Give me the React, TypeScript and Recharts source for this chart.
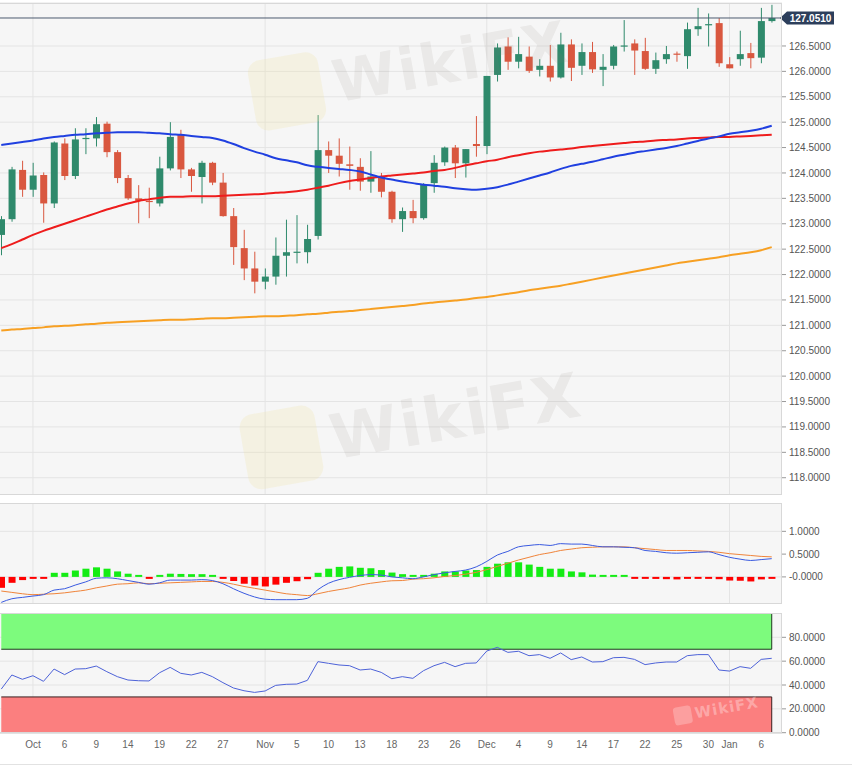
import React from 'react';
import {
  ComposedChart,
  Bar,
  Line,
  Area,
  XAxis,
  YAxis,
  CartesianGrid,
  ReferenceLine,
  Cell,
} from 'recharts';

// trading days shown on the chart
const dates = [
  '2020-09-28', '2020-09-29', '2020-09-30', '2020-10-01', '2020-10-02', '2020-10-05', '2020-10-06', '2020-10-07', '2020-10-08', '2020-10-09',
  '2020-10-12', '2020-10-13', '2020-10-14', '2020-10-15', '2020-10-16', '2020-10-19', '2020-10-20', '2020-10-21', '2020-10-22', '2020-10-23',
  '2020-10-26', '2020-10-27', '2020-10-28', '2020-10-29', '2020-10-30', '2020-11-02', '2020-11-03', '2020-11-04', '2020-11-05', '2020-11-06',
  '2020-11-09', '2020-11-10', '2020-11-11', '2020-11-12', '2020-11-13', '2020-11-16', '2020-11-17', '2020-11-18', '2020-11-19', '2020-11-20',
  '2020-11-23', '2020-11-24', '2020-11-25', '2020-11-26', '2020-11-27', '2020-11-30', '2020-12-01', '2020-12-02', '2020-12-03', '2020-12-04',
  '2020-12-07', '2020-12-08', '2020-12-09', '2020-12-10', '2020-12-11', '2020-12-14', '2020-12-15', '2020-12-16', '2020-12-17', '2020-12-18',
  '2020-12-21', '2020-12-22', '2020-12-23', '2020-12-24', '2020-12-25', '2020-12-28', '2020-12-29', '2020-12-30', '2020-12-31', '2021-01-01',
  '2021-01-04', '2021-01-05', '2021-01-06', '2021-01-07',
];

const opens = [
  122.78, 123.09, 124.06, 123.67, 123.96, 123.40, 124.58, 123.94, 124.67, 124.68,
  124.97, 124.41, 123.90, 123.50, 123.45, 123.40, 124.09, 124.75, 124.07, 123.92,
  124.20, 123.81, 123.15, 122.52, 122.12, 121.86, 121.96, 122.37, 122.44, 122.44,
  122.76, 124.45, 124.34, 124.17, 124.12, 123.83, 123.93, 123.63, 123.09, 123.25,
  123.11, 123.80, 124.21, 124.50, 124.19, 124.57, 124.53, 125.93, 126.49, 126.19,
  126.29, 126.03, 126.11, 125.88, 126.53, 126.11, 126.38, 126.03, 126.11, 126.49,
  126.55, 126.40, 126.05, 126.24, 126.35, 126.30, 126.83, 126.91, 126.95, 126.14,
  126.24, 126.36, 126.27, 126.99,
];
const highs = [
  123.15, 124.12, 124.24, 124.20, 124.01, 124.62, 124.68, 124.88, 124.88, 125.10,
  125.01, 124.45, 123.96, 123.76, 123.71, 124.32, 125.00, 124.85, 124.10, 124.24,
  124.22, 124.00, 123.31, 122.88, 122.45, 122.12, 122.73, 123.08, 123.17, 122.98,
  125.14, 124.62, 124.68, 124.52, 124.29, 124.43, 124.00, 123.65, 123.32, 123.47,
  123.80, 124.35, 124.52, 124.55, 124.47, 125.12, 125.91, 126.55, 126.67, 126.68,
  126.49, 126.24, 126.52, 126.76, 126.63, 126.55, 126.58, 126.34, 126.52, 127.01,
  126.63, 126.66, 126.37, 126.50, 126.39, 126.96, 127.25, 127.14, 127.05, 126.28,
  126.80, 126.56, 127.25, 127.31,
];
const lows = [
  122.38, 123.04, 123.53, 123.53, 123.02, 123.31, 123.86, 123.88, 124.37, 124.52,
  124.31, 123.80, 123.47, 123.01, 123.11, 123.34, 124.05, 123.90, 123.63, 123.40,
  123.76, 123.14, 122.19, 121.89, 121.63, 121.71, 121.80, 121.96, 122.22, 122.22,
  122.69, 124.00, 123.93, 123.67, 123.65, 123.61, 123.52, 123.02, 122.84, 123.01,
  123.08, 123.61, 124.14, 123.90, 123.91, 124.32, 124.37, 125.80, 126.03, 126.06,
  125.97, 125.90, 125.80, 125.86, 125.81, 125.93, 125.97, 125.71, 126.04, 126.39,
  125.93, 126.03, 125.95, 126.15, 126.19, 126.05, 126.70, 126.49, 126.09, 126.06,
  126.11, 126.06, 126.16, 126.96,
];
const closes = [
  123.09, 124.07, 123.67, 123.95, 123.40, 124.60, 123.94, 124.66, 124.69, 124.96,
  124.41, 123.90, 123.50, 123.45, 123.44, 124.09, 124.71, 124.07, 123.94, 124.20,
  123.81, 123.15, 122.54, 122.12, 121.86, 121.96, 122.37, 122.44, 122.45, 122.70,
  124.45, 124.34, 124.18, 124.14, 123.83, 123.93, 123.63, 123.09, 123.25, 123.11,
  123.78, 124.20, 124.50, 124.19, 124.47, 124.53, 125.91, 126.47, 126.19, 126.34,
  126.01, 126.11, 125.88, 126.53, 126.07, 126.38, 126.04, 126.09, 126.49, 126.51,
  126.41, 126.05, 126.22, 126.34, 126.34, 126.83, 126.89, 126.93, 126.16, 126.06,
  126.34, 126.26, 126.99, 127.051,
];

// moving averages
const ma50 = [
  124.55, 124.58, 124.61, 124.64, 124.68, 124.71, 124.73, 124.75, 124.76, 124.78,
  124.79, 124.80, 124.80, 124.80, 124.79, 124.78, 124.76, 124.75, 124.73, 124.71,
  124.69, 124.64, 124.57, 124.49, 124.42, 124.36, 124.29, 124.25, 124.21, 124.15,
  124.12, 124.10, 124.08, 124.06, 124.03, 123.97, 123.91, 123.87, 123.83, 123.80,
  123.77, 123.75, 123.73, 123.70, 123.68, 123.67, 123.69, 123.72, 123.77, 123.83,
  123.89, 123.95, 124.01, 124.08, 124.14, 124.18, 124.22, 124.27, 124.32, 124.36,
  124.40, 124.43, 124.46, 124.49, 124.53, 124.58, 124.63, 124.68, 124.72, 124.77,
  124.80, 124.83, 124.87, 124.93,
];
const ma100 = [
  122.52, 122.60, 122.69, 122.78, 122.86, 122.93, 123.00, 123.07, 123.14, 123.21,
  123.28, 123.34, 123.40, 123.45, 123.48, 123.51, 123.53, 123.53, 123.54, 123.54,
  123.54, 123.55, 123.56, 123.57, 123.58, 123.59, 123.61, 123.62, 123.64, 123.67,
  123.71, 123.75, 123.80, 123.84, 123.87, 123.90, 123.93, 123.95, 123.97, 123.99,
  124.01, 124.04, 124.06, 124.10, 124.15, 124.19, 124.23, 124.26, 124.31, 124.35,
  124.39, 124.42, 124.44, 124.46, 124.48, 124.51, 124.53, 124.55, 124.57, 124.59,
  124.61, 124.62, 124.64, 124.65, 124.66, 124.68, 124.69, 124.70, 124.71, 124.71,
  124.72, 124.73, 124.74, 124.75,
];
const ma200 = [
  120.90, 120.92, 120.93, 120.95, 120.96, 120.98, 120.99, 121.00, 121.02, 121.03,
  121.05, 121.06, 121.07, 121.08, 121.09, 121.10, 121.11, 121.11, 121.12, 121.13,
  121.14, 121.14, 121.15, 121.16, 121.17, 121.18, 121.18, 121.19, 121.20, 121.22,
  121.23, 121.25, 121.27, 121.28, 121.30, 121.32, 121.34, 121.36, 121.38, 121.40,
  121.43, 121.45, 121.47, 121.49, 121.51, 121.54, 121.56, 121.59, 121.62, 121.65,
  121.69, 121.72, 121.75, 121.78, 121.82, 121.86, 121.90, 121.94, 121.98, 122.02,
  122.06, 122.10, 122.14, 122.18, 122.22, 122.25, 122.28, 122.31, 122.34, 122.38,
  122.41, 122.44, 122.48, 122.54,
];

// MACD panel
const macd = [
  -0.56, -0.48, -0.45, -0.42, -0.39, -0.29, -0.26, -0.18, -0.11, -0.03,
  -0.02, -0.04, -0.08, -0.12, -0.16, -0.13, -0.07, -0.07, -0.07, -0.06,
  -0.08, -0.15, -0.26, -0.36, -0.44, -0.49, -0.50, -0.50, -0.50, -0.47,
  -0.28, -0.14, -0.06, -0.01, 0.03, 0.05, 0.04, 0.00, -0.02, -0.04,
  0.00, 0.05, 0.09, 0.12, 0.15, 0.22, 0.34, 0.48, 0.56, 0.66,
  0.69, 0.71, 0.69, 0.73, 0.72, 0.72, 0.69, 0.66, 0.66, 0.65,
  0.64, 0.58, 0.56, 0.53, 0.52, 0.53, 0.54, 0.55, 0.49, 0.43,
  0.39, 0.36, 0.38, 0.40,
];
const signal = [
  -0.31, -0.34, -0.37, -0.39, -0.38, -0.37, -0.35, -0.32, -0.29, -0.24,
  -0.20, -0.16, -0.15, -0.13, -0.15, -0.14, -0.13, -0.12, -0.11, -0.10,
  -0.10, -0.12, -0.16, -0.21, -0.25, -0.29, -0.33, -0.37, -0.39, -0.41,
  -0.37, -0.32, -0.28, -0.24, -0.18, -0.14, -0.11, -0.085, -0.08, -0.05,
  -0.04, -0.02, 0.01, 0.03, 0.06, 0.10, 0.16, 0.23, 0.30, 0.37,
  0.43, 0.49, 0.53, 0.58, 0.61, 0.64, 0.65, 0.66, 0.66, 0.66,
  0.64, 0.62, 0.60, 0.58, 0.58, 0.58, 0.57, 0.56, 0.54, 0.51,
  0.49, 0.47, 0.45, 0.44,
];
const hist = [
  -0.24, -0.13, -0.07, -0.02, -0.015, 0.09, 0.09, 0.14, 0.18, 0.21,
  0.18, 0.12, 0.07, 0.005, -0.015, 0.003, 0.07, 0.065, 0.06, 0.06,
  0.03, -0.02, -0.09, -0.15, -0.19, -0.21, -0.17, -0.13, -0.095, -0.05,
  0.09, 0.18, 0.22, 0.23, 0.20, 0.19, 0.15, 0.095, 0.06, 0.02,
  0.04, 0.07, 0.12, 0.12, 0.14, 0.15, 0.22, 0.29, 0.32, 0.32,
  0.27, 0.22, 0.18, 0.18, 0.12, 0.10, 0.05, 0.015, 0.008, 0.005,
  -0.003, -0.04, -0.045, -0.05, -0.055, -0.03, -0.02, -0.015, -0.05, -0.08,
  -0.085, -0.10, -0.055, -0.03,
];

// RSI panel
const rsi = [
  36.6, 48.4, 44.8, 47.8, 43.1, 53.4, 48.7, 53.4, 53.7, 55.9,
  51.2, 47.0, 44.2, 43.6, 43.4, 50.3, 54.8, 49.8, 48.4, 50.6,
  47.0, 42.0, 37.5, 35.2, 33.8, 35.0, 39.7, 40.6, 40.8, 43.9,
  59.6, 58.2, 56.8, 56.2, 52.6, 53.4, 50.6, 45.3, 47.0, 45.6,
  52.0, 56.2, 59.0, 55.4, 58.2, 58.5, 68.5, 71.6, 67.4, 68.3,
  64.6, 65.5, 62.4, 66.9, 61.3, 63.5, 59.3, 59.6, 62.9, 63.2,
  61.5, 57.1, 58.5, 59.3, 59.3, 64.6, 65.5, 65.5, 52.6, 51.7,
  55.4, 54.0, 61.5, 62.4,
];
const overbought = [70, 100];
const oversold = [0, 30];

const tickDates = [
  '2020-10-01', '2020-10-06', '2020-10-09', '2020-10-14', '2020-10-19', '2020-10-22', '2020-10-27',
  '2020-11-02', '2020-11-05', '2020-11-10', '2020-11-13', '2020-11-18', '2020-11-23', '2020-11-26',
  '2020-12-01', '2020-12-04', '2020-12-09', '2020-12-14', '2020-12-17', '2020-12-22', '2020-12-25', '2020-12-30',
  '2021-01-01', '2021-01-06',
];
const tickLabels = [
  'Oct', '6', '9', '14', '19', '22', '27',
  'Nov', '5', '10', '13', '18', '23', '26',
  'Dec', '4', '9', '14', '17', '22', '25', '30',
  'Jan', '6',
];
const monthStarts = ['2020-10-01', '2020-11-02', '2020-12-01', '2021-01-01'];

const priceTicks = [118, 118.5, 119, 119.5, 120, 120.5, 121, 121.5, 122, 122.5, 123, 123.5, 124, 124.5, 125, 125.5, 126, 126.5];
const macdTicks = [-0.5, 0, 0.5, 1];
const rsiTicks = [0, 20, 40, 60, 80];

const rows = dates.map((d, i) => ({
  d,
  o: opens[i],
  h: highs[i],
  l: lows[i],
  c: closes[i],
  range: [lows[i], highs[i]],
  ma50: ma50[i],
  ma100: ma100[i],
  ma200: ma200[i],
  macd: macd[i],
  signal: signal[i],
  hist: hist[i],
  rsi: rsi[i],
  ob: overbought,
  os: oversold,
}));

const FONT = '"Liberation Sans", Arial, Helvetica, sans-serif';
const UP = '#2f8a6c';
const DOWN = '#d9573f';
const PLOT_BG = '#f6f6f6';
const GRID = '#e4e4e4';
const CHART_W = 856;
const AXIS_W = 70;
const first = dates[0];
const last = dates[dates.length - 1];
const lastClose = closes[closes.length - 1];

const axisTick = { fontSize: 10, fill: '#555', fontFamily: FONT };

function Candle(props: any) {
  const { x, y, width, height, payload } = props;
  const top = Math.min(y, y + height);
  const h = Math.abs(height);
  const span = payload.h - payload.l;
  const k = span > 0 ? h / span : 0;
  const yo = top + (payload.h - payload.o) * k;
  const yc = top + (payload.h - payload.c) * k;
  const col = payload.c >= payload.o ? UP : DOWN;
  const cx = x + width / 2;
  return (
    <g>
      <line x1={cx} x2={cx} y1={top} y2={top + h} stroke={col} strokeWidth={1} />
      <rect x={x} y={Math.min(yo, yc)} width={width} height={Math.max(Math.abs(yc - yo), 1.2)} fill={col} />
    </g>
  );
}

function PriceTag(props: any) {
  const vb = props.viewBox || {};
  const x = vb.x + vb.width;
  const y = vb.y;
  const d = `M${x - 2},${y} L${x + 5},${y - 6.5} L${x + 52},${y - 6.5} L${x + 52},${y + 6.5} L${x + 5},${y + 6.5} Z`;
  return (
    <g>
      <path d={d} fill="#2c3e5b" />
      <text x={x + 28.5} y={y + 3.6} textAnchor="middle" fill="#fff" fontSize={10} fontWeight="bold" fontFamily={FONT}>
        {lastClose.toFixed(4)}
      </text>
    </g>
  );
}

// the same band scale in all three panels so the days line up
const xAxisProps = {
  dataKey: 'd',
  type: 'category' as const,
  scale: 'band' as const,
  padding: { left: 0, right: 5 },
  interval: 0,
  ticks: tickDates,
};

function Watermark({ left, top, size, tone }: { left: number; top: number; size: number; tone?: string }) {
  return (
    <div
      style={{
        position: 'absolute',
        left,
        top,
        display: 'flex',
        alignItems: 'center',
        whiteSpace: 'nowrap',
        transform: 'rotate(-10deg)',
        transformOrigin: 'left center',
        pointerEvents: 'none',
      }}
    >
      <div
        style={{
          width: size * 1.22,
          height: size * 1.22,
          borderRadius: size * 0.22,
          background: tone ? 'rgba(255,255,255,0.25)' : 'rgba(240, 226, 150, 0.2)',
          marginRight: size * 0.2,
          flex: 'none',
        }}
      />
      <span
        style={{
          fontFamily: '"DejaVu Sans", sans-serif',
          fontWeight: 'bold',
          fontSize: size,
          color: tone || 'rgba(140, 125, 115, 0.11)',
          letterSpacing: size > 30 ? 2 : 1,
        }}
      >
        WikiFX
      </span>
    </div>
  );
}

export default function App() {
  return (
    <div style={{ position: 'absolute', left: 0, top: 0, width: 852, height: 767, overflow: 'hidden', background: '#fff', fontFamily: FONT }}>
      {/* price panel */}
      <div style={{ position: 'absolute', left: -4, top: 0 }}>
        <ComposedChart width={CHART_W} height={495} data={rows} margin={{ top: 3, right: 0, bottom: 0, left: 0 }}>
          <CartesianGrid stroke={GRID} fill={PLOT_BG} verticalValues={monthStarts} />
          <XAxis {...xAxisProps} hide />
          <YAxis
            orientation="right"
            width={AXIS_W}
            domain={[117.66, 127.346]}
            ticks={priceTicks}
            allowDataOverflow
            axisLine={false}
            tickLine={{ stroke: '#999' }}
            tickSize={4}
            tickMargin={3}
            tick={axisTick}
            tickFormatter={(v: number) => v.toFixed(4)}
          />
          <ReferenceLine y={lastClose} stroke="#4d5b70" strokeWidth={1} label={<PriceTag />} />
          <Line dataKey="ma200" type="monotone" stroke="#f7a023" strokeWidth={2} dot={false} isAnimationActive={false} />
          <Line dataKey="ma100" type="monotone" stroke="#ee1c1c" strokeWidth={2} dot={false} isAnimationActive={false} />
          <Line dataKey="ma50" type="monotone" stroke="#2040e0" strokeWidth={2} dot={false} isAnimationActive={false} />
          <Bar dataKey="range" barSize={7} shape={<Candle />} isAnimationActive={false} />
        </ComposedChart>
      </div>

      {/* MACD panel */}
      <div style={{ position: 'absolute', left: -4, top: 503 }}>
        <ComposedChart width={CHART_W} height={101} data={rows} margin={{ top: 0, right: 0, bottom: 0, left: 0 }}>
          <CartesianGrid stroke={GRID} fill={PLOT_BG} verticalValues={monthStarts} />
          <XAxis {...xAxisProps} hide />
          <YAxis
            orientation="right"
            width={AXIS_W}
            domain={[-0.595, 1.622]}
            ticks={macdTicks}
            allowDataOverflow
            axisLine={false}
            tickLine={{ stroke: '#999' }}
            tickSize={4}
            tickMargin={3}
            tick={axisTick}
            tickFormatter={(v: number) => (v === 0 ? '-0.0000' : v.toFixed(4))}
          />
          <Bar dataKey="hist" barSize={7} minPointSize={2} isAnimationActive={false}>
            {rows.map((r) => (
              <Cell key={r.d} fill={r.hist >= 0 ? '#14ec14' : '#ff0000'} />
            ))}
          </Bar>
          <Line dataKey="signal" type="monotone" stroke="#f0843a" strokeWidth={1} dot={false} isAnimationActive={false} />
          <Line dataKey="macd" type="monotone" stroke="#3a5ae0" strokeWidth={1} dot={false} isAnimationActive={false} />
        </ComposedChart>
      </div>

      {/* RSI panel */}
      <div style={{ position: 'absolute', left: -4, top: 613 }}>
        <ComposedChart width={CHART_W} height={140} data={rows} margin={{ top: 0, right: 0, bottom: 0, left: 0 }}>
          <CartesianGrid stroke={GRID} fill={PLOT_BG} verticalValues={monthStarts} />
          <XAxis
            {...xAxisProps}
            height={20}
            axisLine={{ stroke: '#d6d6d6' }}
            tickLine={false}
            tickSize={6}
            tickMargin={2}
            tick={{ fontSize: 10, fill: '#666', fontFamily: FONT }}
            tickFormatter={(v: string) => tickLabels[tickDates.indexOf(v)]}
          />
          <YAxis
            orientation="right"
            width={AXIS_W}
            domain={[-0.25, 100.4]}
            ticks={rsiTicks}
            allowDataOverflow
            axisLine={false}
            tickLine={{ stroke: '#999' }}
            tickSize={4}
            tickMargin={3}
            tick={axisTick}
            tickFormatter={(v: number) => v.toFixed(4)}
          />
          <Area dataKey="ob" type="linear" fill="#7dfb7d" fillOpacity={1} stroke="none" isAnimationActive={false} />
          <Area dataKey="os" type="linear" fill="#fb7f7f" fillOpacity={1} stroke="none" isAnimationActive={false} />
          <ReferenceLine segment={[{ x: first, y: 70 }, { x: last, y: 70 }]} stroke="#1f3a1f" />
          <ReferenceLine segment={[{ x: last, y: 70 }, { x: last, y: 100 }]} stroke="#1f3a1f" />
          <ReferenceLine segment={[{ x: first, y: 30 }, { x: last, y: 30 }]} stroke="#3a1f1f" />
          <ReferenceLine segment={[{ x: last, y: 0 }, { x: last, y: 30 }]} stroke="#3a1f1f" />
          <Line dataKey="rsi" type="linear" stroke="#4d62d8" strokeWidth={1} dot={false} isAnimationActive={false} />
        </ComposedChart>
      </div>

      {/* panel frames */}
      <div style={{ position: 'absolute', left: -4, top: 3, width: 786, height: 492, border: '1px solid #d8d8d8', boxSizing: 'border-box', pointerEvents: 'none' }} />
      <div style={{ position: 'absolute', left: -4, top: 503, width: 786, height: 101, border: '1px solid #d8d8d8', boxSizing: 'border-box', pointerEvents: 'none' }} />
      <div style={{ position: 'absolute', left: -4, top: 613, width: 786, height: 120, border: '1px solid #d8d8d8', boxSizing: 'border-box', pointerEvents: 'none' }} />
      <div style={{ position: 'absolute', left: 0, top: 764, width: 852, height: 1, background: '#e2e2e2' }} />

      <Watermark left={252} top={62} size={58} />
      <Watermark left={244} top={416} size={62} />
      <Watermark left={674} top={708} size={15} tone="rgba(255,255,255,0.32)" />
    </div>
  );
}
